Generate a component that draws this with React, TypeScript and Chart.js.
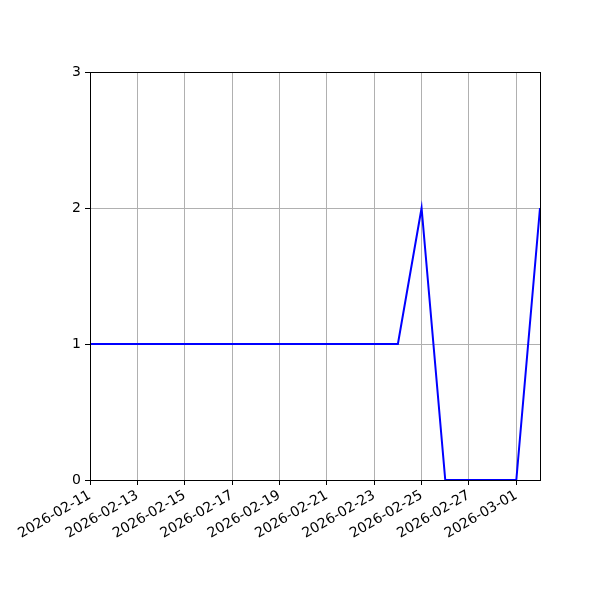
import React, { useEffect, useRef } from "react";
import { Chart, registerables } from "chart.js";

Chart.register(...registerables);

// daily dates on the x axis
const dates = [
  "2026-02-11", "2026-02-12", "2026-02-13", "2026-02-14", "2026-02-15",
  "2026-02-16", "2026-02-17", "2026-02-18", "2026-02-19", "2026-02-20",
  "2026-02-21", "2026-02-22", "2026-02-23", "2026-02-24", "2026-02-25",
  "2026-02-26", "2026-02-27", "2026-02-28", "2026-03-01", "2026-03-02",
];

// count per day
const counts = [1, 1, 1, 1, 1, 1, 1, 1, 1, 1, 1, 1, 1, 1, 2, 0, 0, 0, 0, 2];

const yTicks = [0, 1, 2, 3];

const GRID = "#b0b0b0";
const FONT = { family: "DejaVu Sans", size: 14 };

// full box around the plot like matplotlib spines
const boxPlugin = {
  id: "box",
  afterDatasetsDraw(chart: Chart) {
    const { ctx, chartArea } = chart;
    ctx.save();
    ctx.strokeStyle = "#000";
    ctx.lineWidth = 1;
    ctx.strokeRect(
      Math.round(chartArea.left) + 0.5,
      Math.round(chartArea.top) + 0.5,
      Math.round(chartArea.right - chartArea.left),
      Math.round(chartArea.bottom - chartArea.top)
    );
    ctx.restore();
  },
};

const App: React.FC = () => {
  const canvasRef = useRef<HTMLCanvasElement>(null);

  useEffect(() => {
    document.body.style.margin = "0";
    if (!canvasRef.current) return;

    const chart = new Chart(canvasRef.current, {
      type: "line",
      data: {
        labels: dates,
        datasets: [
          {
            data: counts,
            borderColor: "#0000ff",
            borderWidth: 2,
            pointRadius: 0,
            tension: 0,
          },
        ],
      },
      options: {
        animation: false,
        responsive: false,
        devicePixelRatio: 1,
        layout: { padding: { top: 72, right: 60, left: 0, bottom: 0 } },
        plugins: {
          legend: { display: false },
          tooltip: { enabled: false },
        },
        scales: {
          x: {
            type: "category",
            offset: false,
            afterFit: (scale: any) => {
              scale.height = 120;
            },
            grid: {
              color: (c: any) => (c.index % 2 === 0 ? GRID : "rgba(0,0,0,0)"),
              tickColor: (c: any) => (c.index % 2 === 0 ? "#000" : "rgba(0,0,0,0)"),
              tickLength: 5,
              lineWidth: 1,
            },
            border: { color: "#000", width: 1 },
            ticks: {
              autoSkip: false,
              minRotation: 30,
              maxRotation: 30,
              padding: 2,
              color: "#000",
              font: FONT,
              callback: (_v: any, i: number) => (i % 2 === 0 ? dates[i] : ""),
            },
          },
          y: {
            min: yTicks[0],
            max: yTicks[yTicks.length - 1],
            afterFit: (scale: any) => {
              scale.width = 90;
            },
            afterBuildTicks: (scale: any) => {
              scale.ticks = yTicks.map((v) => ({ value: v }));
            },
            grid: {
              color: GRID,
              tickColor: "#000",
              tickLength: 5,
              lineWidth: 1,
            },
            border: { color: "#000", width: 1 },
            ticks: {
              color: "#000",
              font: FONT,
              padding: 4,
            },
          },
        },
      },
      plugins: [boxPlugin],
    });

    return () => {
      chart.destroy();
    };
  }, []);

  return (
    <div style={{ width: 600, height: 600 }}>
      <canvas ref={canvasRef} width={600} height={600} style={{ display: "block" }} />
    </div>
  );
};

export default App;
